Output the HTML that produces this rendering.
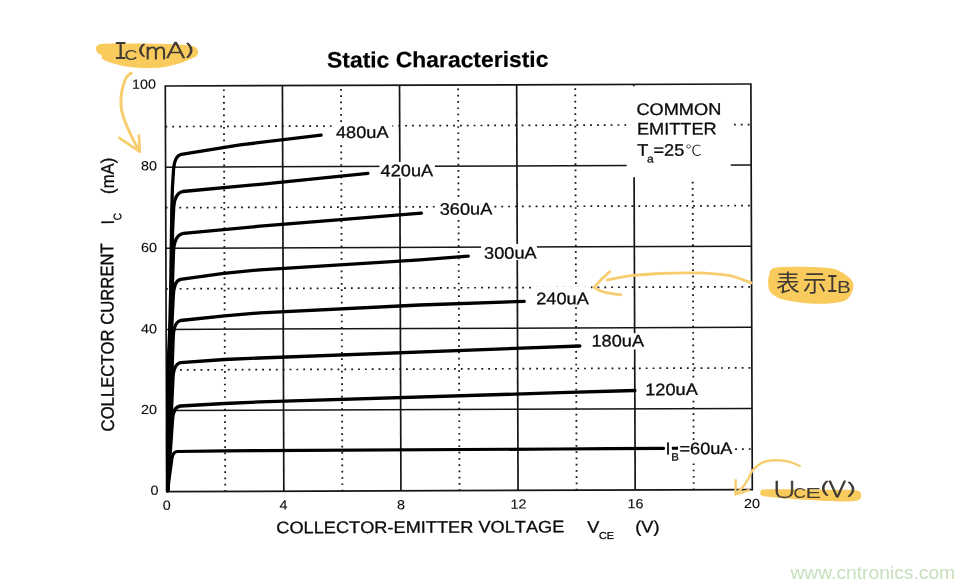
<!DOCTYPE html>
<html lang="zh"><head><meta charset="utf-8"><title>Static Characteristic</title>
<style>html,body{margin:0;padding:0;background:#fff}body{width:974px;height:588px;overflow:hidden}svg{display:block}.t{font-family:"Liberation Sans","Noto Sans CJK SC",sans-serif;fill:#0c0c0c;stroke:#0c0c0c;stroke-width:.3px;stroke-linejoin:round;font-kerning:none}.k{stroke-width:.12px}</style></head><body>
<svg width="974" height="588" viewBox="0 0 974 588">
<rect width="974" height="588" fill="#fff"/>
<g transform="rotate(-0.2 458.8 287.5)">
<g stroke="#151515" fill="none">
<line x1="224.56" y1="88.6" x2="224.56" y2="490.6" stroke-width="1.8" stroke-dasharray="1.7 4.56"/>
<line x1="341.68" y1="88.6" x2="341.68" y2="490.6" stroke-width="1.8" stroke-dasharray="1.7 4.56"/>
<line x1="458.8" y1="88.6" x2="458.8" y2="490.6" stroke-width="1.8" stroke-dasharray="1.7 4.56"/>
<line x1="575.92" y1="88.6" x2="575.92" y2="490.6" stroke-width="1.8" stroke-dasharray="1.7 4.56"/>
<line x1="693.04" y1="88.6" x2="693.04" y2="490.6" stroke-width="1.8" stroke-dasharray="1.7 4.56"/>
<line x1="714" y1="450.04" x2="750.6" y2="450.04" stroke-width="1.7" stroke-dasharray="1.8 5.05"/>
<line x1="166" y1="368.92" x2="750.6" y2="368.92" stroke-width="1.7" stroke-dasharray="1.8 5.05"/>
<line x1="166" y1="287.8" x2="750.6" y2="287.8" stroke-width="1.7" stroke-dasharray="1.8 5.05"/>
<line x1="166" y1="206.68" x2="750.6" y2="206.68" stroke-width="1.7" stroke-dasharray="1.8 5.05"/>
<line x1="166" y1="125.56" x2="750.6" y2="125.56" stroke-width="1.7" stroke-dasharray="1.8 5.05"/>
</g>
<g stroke="#151515" fill="none">
<line x1="283.12" y1="85" x2="283.12" y2="490.6" stroke-width="1.7"/>
<line x1="400.24" y1="85" x2="400.24" y2="490.6" stroke-width="1.7"/>
<line x1="517.36" y1="85" x2="517.36" y2="490.6" stroke-width="1.7"/>
<line x1="634.48" y1="85" x2="634.48" y2="490.6" stroke-width="1.7"/>
<line x1="166" y1="409.48" x2="751.6" y2="409.48" stroke-width="1.5"/>
<line x1="166" y1="328.36" x2="751.6" y2="328.36" stroke-width="1.5"/>
<line x1="166" y1="247.24" x2="751.6" y2="247.24" stroke-width="1.5"/>
<line x1="166" y1="166.12" x2="751.6" y2="166.12" stroke-width="1.5"/>
</g>
<rect x="627.1" y="86.89" width="104.08" height="91.06" fill="#fff"/>
<rect x="333.07" y="123.56" width="59.94" height="17.71" fill="#fff"/>
<rect x="379.94" y="161.72" width="55.44" height="16.19" fill="#fff"/>
<rect x="435.31" y="199.92" width="58.94" height="17.21" fill="#fff"/>
<rect x="481.15" y="244.08" width="55.94" height="16.2" fill="#fff"/>
<rect x="532" y="286.76" width="58.93" height="20.71" fill="#fff"/>
<rect x="586.84" y="333.95" width="58.94" height="16.21" fill="#fff"/>
<rect x="641.67" y="381.64" width="56.94" height="17.2" fill="#fff"/>
<rect x="663.47" y="440.72" width="69.93" height="21.24" fill="#fff"/>
<rect x="166" y="85" width="585.6" height="405.6" fill="none" stroke="#151515" stroke-width="1.7"/>
<g stroke="#000" stroke-width="3.3" fill="none" stroke-linecap="round" stroke-linejoin="round">
<path d="M166.89 489.58 L166.97 438.98 L167.71 368.98 L169.55 328.99 L170.69 288.99 L172.07 209 L172.75 187 L173.8 171 Q174.57 154.86 181.87 153.43 L240.5 144.14 L321.63 134.62"/>
<path d="M166.89 489.58 L167.27 438.98 L168.41 368.99 L170.15 328.99 L171.39 289 L172.8 229 L173.87 209 Q174.46 192.1 182.94 190.54 L260.36 183.61 L368.3 173.08"/>
<path d="M166.89 489.58 L167.57 438.98 L169.11 368.99 L170.75 328.99 L172.19 289 L173.63 251 Q174.24 234.04 183.79 232.44 L260.22 225.51 L421.66 213.07"/>
<path d="M166.89 489.58 L167.97 438.99 L169.91 368.99 L171.45 329 L173.27 295 Q173.81 279.83 180.53 278.33 L223.75 272.48 L260.06 269.11 L420.1 259.66 L468.41 256.13"/>
<path d="M166.89 489.58 L173.03 337 Q173.46 321.34 180.39 319.53 L224.4 315.08 L259.91 312.11 L419.94 304.86 L524.25 301.53"/>
<path d="M166.89 489.58 L172.58 379 Q172.97 363.23 180.24 361.63 L224.25 358.68 L259.76 357.31 L579.6 346.42"/>
<path d="M166.89 489.58 L172.04 419 Q172.52 406.11 180.09 405.03 L224.1 402.68 L259.6 401.21 L559.63 393.05 L634.54 391.11"/>
<path d="M166.89 489.58 L171.3 457.5 Q172.53 450.9 176.43 450.52 L224.73 450.08 L259.43 449.91 L559.44 449.35 L609.44 449.13 L663.04 449.01" stroke-width="3.2"/>
<path d="M671.34 448.94 L677.44 448.91" stroke-width="3" stroke-linecap="butt"/>
</g>
<text class="t" transform="translate(327.77 67.14) scale(1.032 1)" font-size="22.2" text-anchor="start" font-weight="bold" style="stroke-width:.2px;fill:#000">Static Characteristic</text>
<text class="t" transform="translate(336.52 137.57) scale(1.09 1)" font-size="16.7" text-anchor="start">480uA</text>
<text class="t" transform="translate(380.99 176.13) scale(1.09 1)" font-size="16.7" text-anchor="start">420uA</text>
<text class="t" transform="translate(439.95 214.63) scale(1.09 1)" font-size="16.7" text-anchor="start">360uA</text>
<text class="t" transform="translate(484.2 258.79) scale(1.09 1)" font-size="16.7" text-anchor="start">300uA</text>
<text class="t" transform="translate(536.14 304.57) scale(1.09 1)" font-size="16.7" text-anchor="start">240uA</text>
<text class="t" transform="translate(591.29 347.06) scale(1.09 1)" font-size="16.7" text-anchor="start">180uA</text>
<text class="t" transform="translate(644.82 395.85) scale(1.09 1)" font-size="16.7" text-anchor="start">120uA</text>
<text class="t" transform="translate(665.02 454.92) scale(1.09 1)"><tspan x="0" y="0" font-size="16.7">I</tspan><tspan x="5.12" y="6.22" font-size="10.5">B</tspan><tspan x="12.66" y="0.05" font-size="16.7">=60uA</tspan></text>
<text class="t" transform="translate(637 115.72) scale(1.09 1)" font-size="16.7" text-anchor="start">COMMON</text>
<text class="t" transform="translate(637.43 135.22) scale(1.09 1)" font-size="16.7" text-anchor="start">EMITTER</text>
<text class="t" transform="translate(637.66 156.32) scale(1.09 1)"><tspan x="0" y="0" font-size="16.7">T</tspan><tspan x="8.97" y="6.83" font-size="11">a</tspan><tspan x="14.95" y="0.06" font-size="16.7">=25</tspan><tspan x="44.31" y="0.17" font-size="15" style="font-family:'Noto Sans CJK SC','Liberation Sans',sans-serif;font-weight:300;stroke:none">℃</tspan></text>
<text class="t k" transform="translate(156.7 87.54) scale(1.09 1)" font-size="13.2" text-anchor="end">100</text>
<text class="t k" transform="translate(157.31 169.05) scale(1.09 1)" font-size="13.2" text-anchor="end">80</text>
<text class="t k" transform="translate(157.03 250.95) scale(1.09 1)" font-size="13.2" text-anchor="end">60</text>
<text class="t k" transform="translate(156.74 332.25) scale(1.09 1)" font-size="13.2" text-anchor="end">40</text>
<text class="t k" transform="translate(156.46 412.85) scale(1.09 1)" font-size="13.2" text-anchor="end">20</text>
<text class="t k" transform="translate(157.88 493.55) scale(1.09 1)" font-size="13.2" text-anchor="end">0</text>
<text class="t k" transform="translate(166.03 508.78) scale(1.09 1)" font-size="13.2" text-anchor="middle">0</text>
<text class="t k" transform="translate(282.73 508.99) scale(1.09 1)" font-size="13.2" text-anchor="middle">4</text>
<text class="t k" transform="translate(400.23 509) scale(1.09 1)" font-size="13.2" text-anchor="middle">8</text>
<text class="t k" transform="translate(517.63 508.81) scale(1.09 1)" font-size="13.2" text-anchor="middle">12</text>
<text class="t k" transform="translate(634.73 508.92) scale(1.09 1)" font-size="13.2" text-anchor="middle">16</text>
<text class="t k" transform="translate(751.33 508.92) scale(1.09 1)" font-size="13.2" text-anchor="middle">20</text>
<text class="t" transform="translate(275.44 532.66) scale(1.09 1)"><tspan x="0" y="0" font-size="16.7">COLLECTOR-EMITTER VOLTAGE </tspan><tspan x="285.23" y="0.49" font-size="16.7">V</tspan><tspan x="296.04" y="6.73" font-size="10">CE </tspan><tspan x="329.36" y="0.55" font-size="16.7">(V)</tspan></text>
<text class="t" transform="translate(113.4 430.2) scale(1.09 1) rotate(-90)"><tspan x="-0" y="0" font-size="16.7">COLLECTOR CURRENT </tspan><tspan x="207" y="0.66" font-size="16.7">I</tspan><tspan x="211.07" y="7.37" font-size="10">C </tspan><tspan x="237.5" y="0.76" font-size="16.7">(mA)</tspan></text>
</g>
<path d="M96.1 47.5 C96.55 46.1 96.78 44.87 100.1 44.2 C103.42 43.53 109.35 43.6 116 43.5 C122.65 43.4 131.83 43.52 140 43.6 C148.17 43.68 157.33 43.77 165 44 C172.67 44.23 181 44.5 186 45 C191 45.5 192.97 45.9 195 47 C197.03 48.1 197.97 50.12 198.2 51.6 C198.43 53.08 197.9 54.58 196.4 55.9 C194.9 57.22 191.83 58.3 189.2 59.5 C186.57 60.7 184.43 61.9 180.6 63.1 C176.77 64.3 170.98 65.87 166.2 66.7 C161.42 67.53 156.68 67.92 151.9 68.1 C147.12 68.28 142.3 68.15 137.5 67.8 C132.7 67.45 127.9 66.95 123.1 66 C118.3 65.05 112.22 63.33 108.7 62.1 C105.18 60.87 103.15 59.68 102 58.6 C100.85 57.52 102.57 56.6 101.8 55.6 C101.03 54.6 98.35 53.95 97.4 52.6 C96.45 51.25 95.65 48.9 96.1 47.5Z" fill="#f9ca5c"/>
<path d="M773.3 268.2 C776.9 266.93 784.47 267 790.8 266.8 C797.13 266.6 804.45 266.72 811.3 267 C818.15 267.28 826.77 267.6 831.9 268.5 C837.03 269.4 839.03 270.73 842.1 272.4 C845.17 274.07 848.42 276.45 850.3 278.5 C852.18 280.55 853.05 282.63 853.4 284.7 C853.75 286.77 853.25 288.68 852.4 290.9 C851.55 293.12 850.02 296.22 848.3 298 C846.58 299.78 845.7 300.65 842.1 301.6 C838.5 302.55 832.68 303.43 826.7 303.7 C820.72 303.97 812.18 303.63 806.2 303.2 C800.22 302.77 795.42 301.97 790.8 301.1 C786.18 300.23 781.92 299.53 778.5 298 C775.08 296.47 772.02 294.28 770.3 291.9 C768.58 289.52 768.38 286.62 768.2 283.7 C768.02 280.78 768.35 276.98 769.2 274.4 C770.05 271.82 769.7 269.47 773.3 268.2Z" fill="#f9ca5c"/>
<path d="M760.3 492.6 C760.6 491.67 759.72 490.17 763 489.6 C766.28 489.03 772.17 489.23 780 489.2 C787.83 489.17 800 489.32 810 489.4 C820 489.48 832.33 489.57 840 489.7 C847.67 489.83 852.57 489.65 856 490.2 C859.43 490.75 859.77 491.87 860.6 493 C861.43 494.13 861.43 495.78 861 497 C860.57 498.22 860.17 499.57 858 500.3 C855.83 501.03 853.5 501.3 848 501.4 C842.5 501.5 833 501.2 825 500.9 C817 500.6 807.5 500.08 800 499.6 C792.5 499.12 785.67 498.5 780 498 C774.33 497.5 769.13 497.07 766 496.6 C762.87 496.13 762.15 495.87 761.2 495.2 C760.25 494.53 760 493.53 760.3 492.6Z" fill="#f9ca5c"/>
<g fill="none" stroke="#f7cd70" stroke-linecap="round" stroke-linejoin="round">
<path d="M131.2 73 C130.43 73.67 127.93 74.92 126.6 77 C125.27 79.08 124.12 82.1 123.2 85.5 C122.28 88.9 121.38 93.43 121.1 97.4 C120.82 101.37 120.87 105.33 121.5 109.3 C122.13 113.27 123.35 116.95 124.9 121.2 C126.45 125.45 128.37 129.77 130.8 134.8 C133.23 139.83 138.05 148.63 139.5 151.4" stroke-width="3"/>
<path d="M119.3 137.9 C126 142.5 133 147 139.6 151.6 C139.8 146 139.3 141 138.8 135.7" stroke-width="2.8"/>
<path d="M751.3 282.9 C748.22 281.8 738.85 277.8 732.8 276.3 C726.75 274.8 721.15 274.47 715 273.9 C708.85 273.33 705.25 272.97 695.9 272.9 C686.55 272.83 669.68 273.03 658.9 273.5 C648.12 273.97 639.82 274.63 631.2 275.7 C622.58 276.77 611.2 279.2 607.2 279.9" stroke-width="2.8"/>
<path d="M609.9 271.6 C604 276.5 598.5 282 594 287.3 C598 290.5 603 292 607.2 292.9 C612 293.8 616.5 294.2 621 294.9" stroke-width="2.7"/>
<path d="M799.7 466 C798.18 465.37 794.3 463.15 790.6 462.2 C786.9 461.25 781.6 460.43 777.5 460.3 C773.4 460.17 769.28 460.53 766 461.4 C762.72 462.27 760.13 463.85 757.8 465.5 C755.47 467.15 753.65 468.97 752 471.3 C750.35 473.63 749.4 476.9 747.9 479.5 C746.4 482.1 745.05 484.48 743 486.9 C740.95 489.32 736.83 492.82 735.6 494" stroke-width="2.4"/>
<path d="M735.8 480.3 L735.3 494.3 C740 493.5 744.5 492 748.7 490.2" stroke-width="2.4"/>
</g>
<g fill="#3f3a34" aria-label="IC(mA)"><text transform="matrix(1.193 0 0 1.308 113.47 59.20)" font-size="20" style="font-family:'Liberation Mono',monospace">I</text><text transform="matrix(0.893 0 0 0.735 124.41 59.55)" font-size="20" style="font-family:'Liberation Sans',sans-serif">C</text><text transform="matrix(1.352 0 0 0.728 136.73 54.67)" font-size="20" font-weight="200" stroke="#3f3a34" stroke-width="1.02" vector-effect="non-scaling-stroke" stroke-linejoin="round" style="font-family:'DejaVu Sans',sans-serif">(</text><text transform="matrix(1.159 0 0 1.045 144.49 59.00)" font-size="20" font-weight="200" stroke="#3f3a34" stroke-width="0.95" vector-effect="non-scaling-stroke" stroke-linejoin="round" style="font-family:'DejaVu Sans',sans-serif">m</text><text transform="matrix(1.452 0 0 1.096 165.73 58.20)" font-size="20" font-weight="200" stroke="#3f3a34" stroke-width="0.78" vector-effect="non-scaling-stroke" stroke-linejoin="round" style="font-family:'DejaVu Sans',sans-serif">A</text><text transform="matrix(1.465 0 0 0.751 183.38 54.61)" font-size="20" font-weight="200" stroke="#3f3a34" stroke-width="0.95" vector-effect="non-scaling-stroke" stroke-linejoin="round" style="font-family:'DejaVu Sans',sans-serif">)</text></g>
<g fill="#3f3a34" aria-label="表示IB"><text transform="matrix(1.191 0 0 1.111 776.01 291.12)" font-size="20" style="font-family:'Noto Sans CJK SC','Liberation Sans',sans-serif;letter-spacing:2.41px">表示</text><text transform="matrix(1.019 0 0 1.293 826.31 291.90)" font-size="20" style="font-family:'Liberation Mono',monospace">I</text><text transform="matrix(1.033 0 0 0.844 837.10 292.80)" font-size="20" style="font-family:'Liberation Sans',sans-serif">B</text></g>
<g fill="#3f3a34" aria-label="UCE(V)"><text transform="matrix(1.665 0 0 1.121 772.15 497.66)" font-size="20" font-weight="200" stroke="#3f3a34" stroke-width="0.65" vector-effect="non-scaling-stroke" stroke-linejoin="round" style="font-family:'DejaVu Sans',sans-serif">U</text><text transform="matrix(0.862 0 0 0.756 793.44 498.15)" font-size="20" style="font-family:'Liberation Sans',sans-serif">C</text><text transform="matrix(1.152 0 0 0.705 805.50 498.30)" font-size="20" style="font-family:'Liberation Sans',sans-serif">E</text><text transform="matrix(1.493 0 0 0.756 819.22 493.40)" font-size="20" font-weight="200" stroke="#3f3a34" stroke-width="0.93" vector-effect="non-scaling-stroke" stroke-linejoin="round" style="font-family:'DejaVu Sans',sans-serif">(</text><text transform="matrix(1.320 0 0 1.082 828.14 497.10)" font-size="20" font-weight="200" stroke="#3f3a34" stroke-width="0.85" vector-effect="non-scaling-stroke" stroke-linejoin="round" style="font-family:'DejaVu Sans',sans-serif">V</text><text transform="matrix(1.577 0 0 0.835 844.73 493.99)" font-size="20" font-weight="200" stroke="#3f3a34" stroke-width="0.85" vector-effect="non-scaling-stroke" stroke-linejoin="round" style="font-family:'DejaVu Sans',sans-serif">)</text></g>
<text x="790.4" y="578.6" font-size="19.25" style="font-family:'Liberation Sans',sans-serif;fill:#c8e0bd">www.cntronics.com</text>
</svg></body></html>
